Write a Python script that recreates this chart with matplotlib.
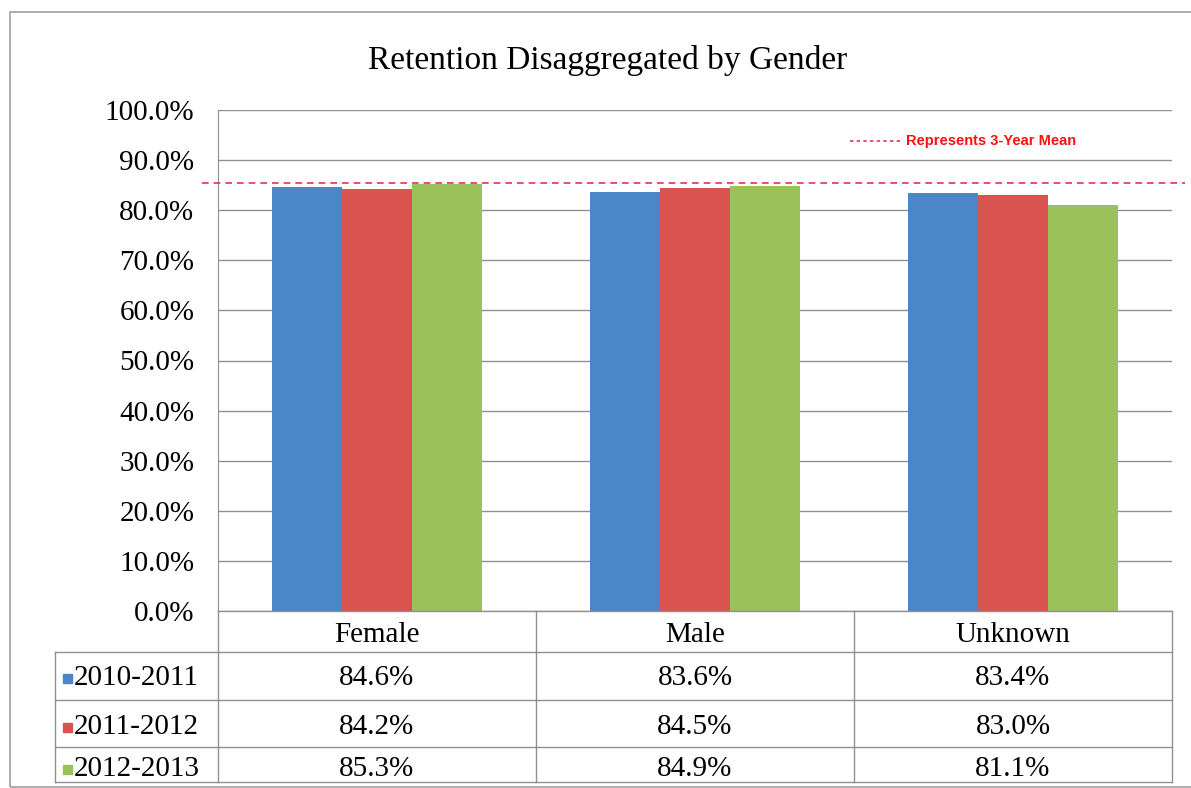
import matplotlib.pyplot as plt
import numpy as np

categories = ['Female', 'Male', 'Unknown']
years = ['2010-2011', '2011-2012', '2012-2013']
retention = {
    '2010-2011': [84.6, 83.6, 83.4],
    '2011-2012': [84.2, 84.5, 83.0],
    '2012-2013': [85.3, 84.9, 81.1],
}
mean_3yr = 85.4
colors = ['#4A86C8', '#D9534F', '#9BC15A']
serif = 'Liberation Serif'

W, H = 1191, 788
fig = plt.figure(figsize=(W / 100, H / 100), dpi=100)


def fx(px):
    return px / W


def fy(py):
    return 1 - py / H


# outer chart border
fig.add_artist(plt.Rectangle((fx(10), fy(787)), fx(1200) - fx(10), fy(12) - fy(787),
                             transform=fig.transFigure, fill=False, ec='#a0a0a0', lw=1.2))

left, right, top, bot = 218, 1172, 110, 611
ax = fig.add_axes([fx(left), fy(bot), fx(right) - fx(left), fy(top) - fy(bot)])

x = np.arange(len(categories))
bw = 0.22
for i, yr in enumerate(years):
    ax.bar(x + (i - 1) * bw, retention[yr], bw, color=colors[i], zorder=3)

ax.set_xlim(-0.5, len(categories) - 0.5)
ax.set_ylim(0, 100)
ax.set_yticks(np.arange(0, 101, 10))
ax.set_yticklabels(['%.1f%%' % v for v in np.arange(0, 101, 10)],
                   fontfamily=serif, fontsize=21)
ax.tick_params(axis='y', length=0, pad=17)
ax.set_xticks([])
ax.grid(axis='y', color='#909090', lw=1, zorder=0)
for s in ['top', 'right', 'bottom']:
    ax.spines[s].set_visible(False)
ax.spines['left'].set_color('#909090')

# 3-year mean line (runs a bit past the plot area)
ax.plot([-0.55, 2.54], [mean_3yr, mean_3yr], ls=(0, (4, 3)), color='#E8305A',
        lw=1.2, clip_on=False, zorder=4)
fig.add_artist(plt.Line2D([fx(850), fx(902)], [fy(141), fy(141)], ls=(0, (2, 2)),
                          color='#E8305A', lw=1.2, transform=fig.transFigure))
fig.text(fx(906), fy(141), 'Represents 3-Year Mean', color='#FF1010', fontsize=10.5,
         fontweight='bold', va='center', ha='left', fontfamily='Liberation Sans')

fig.text(fx(608), fy(60), 'Retention Disaggregated by Gender', ha='center', va='center',
         fontfamily=serif, fontsize=24)

# data table
tab_left, tab_bot = 55, 782
rows_y = [611, 652, 700, 747, 782]
col_x = [left + (right - left) * k / len(categories) for k in range(len(categories) + 1)]
lc = '#909090'
fig.add_artist(plt.Line2D([fx(left), fx(right)], [fy(rows_y[0])] * 2, color=lc, lw=1, transform=fig.transFigure))
for yy in rows_y[1:]:
    fig.add_artist(plt.Line2D([fx(tab_left), fx(right)], [fy(yy)] * 2, color=lc, lw=1, transform=fig.transFigure))
fig.add_artist(plt.Line2D([fx(tab_left)] * 2, [fy(rows_y[1]), fy(tab_bot)], color=lc, lw=1, transform=fig.transFigure))
for xx in col_x:
    fig.add_artist(plt.Line2D([fx(xx)] * 2, [fy(rows_y[0]), fy(tab_bot)], color=lc, lw=1, transform=fig.transFigure))

for j, c in enumerate(categories):
    cx = (col_x[j] + col_x[j + 1]) / 2
    fig.text(fx(cx), fy((rows_y[0] + rows_y[1]) / 2 + 4), c, ha='center', va='center',
             fontfamily=serif, fontsize=21)
for i, yr in enumerate(years):
    cy = (rows_y[i + 1] + rows_y[i + 2]) / 2 + 2 + i
    fig.add_artist(plt.Rectangle((fx(63), fy(cy + 5)), fx(9), fy(0) - fy(9),
                                 transform=fig.transFigure, color=colors[i]))
    fig.text(fx(74), fy(cy), yr, ha='left', va='center', fontfamily=serif, fontsize=21)
    for j, v in enumerate(retention[yr]):
        cx = (col_x[j] + col_x[j + 1]) / 2
        fig.text(fx(cx), fy(cy), '%.1f%%' % v, ha='center', va='center',
                 fontfamily=serif, fontsize=21)

fig.savefig('out.png', dpi=100)
